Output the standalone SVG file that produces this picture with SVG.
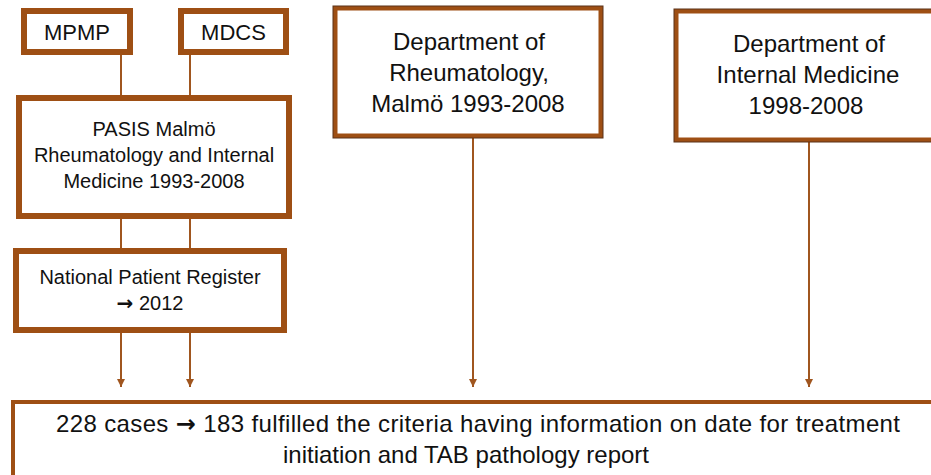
<svg xmlns="http://www.w3.org/2000/svg" width="931" height="475" viewBox="0 0 931 475">
  <defs>
    <style>
      .box { fill: #ffffff; stroke: #9E4F14; stroke-width: 6; }
      .box4 { fill: #ffffff; stroke: #9E4F14; stroke-width: 4; }
      .edge { fill: none; stroke: #5A3218; stroke-width: 6; }
      .inner { fill: #ffffff; stroke: #9E4F14; stroke-width: 4; }
      .t { font-family: "Liberation Sans", Arial, sans-serif; fill: #111111; text-anchor: middle; }
      .ar { font-family: "DejaVu Sans", sans-serif; font-weight: bold; }
      .conn { fill: none; stroke: #A0561F; stroke-width: 2; }
    </style>
    <marker id="arr" viewBox="0 0 10 10" refX="10" refY="5" markerWidth="8" markerHeight="9" markerUnits="userSpaceOnUse" orient="auto">
      <path d="M0,0 L10,5 L0,10 z" fill="#A0561F"/>
    </marker>
  </defs>

  <rect width="931" height="475" fill="#ffffff"/>

  <g id="connectors">
    <line class="conn" x1="121" y1="55" x2="121" y2="95"/>
    <line class="conn" x1="190" y1="55" x2="190" y2="95"/>
    <line class="conn" x1="121" y1="219" x2="121" y2="248"/>
    <line class="conn" x1="190" y1="219" x2="190" y2="248"/>
    <line class="conn" x1="121" y1="333" x2="121" y2="387" marker-end="url(#arr)"/>
    <line class="conn" x1="190" y1="333" x2="190" y2="387" marker-end="url(#arr)"/>
    <line class="conn" x1="473" y1="138" x2="473" y2="387" marker-end="url(#arr)"/>
    <line class="conn" x1="809" y1="142" x2="809" y2="387" marker-end="url(#arr)"/>
  </g>

  <g id="mpmp">
    <rect class="box" x="24" y="11" width="106" height="41"/>
    <text class="t" x="77" y="39.5" font-size="22">MPMP</text>
  </g>

  <g id="mdcs">
    <rect class="box" x="181" y="11" width="105" height="41"/>
    <text class="t" x="233.5" y="39.5" font-size="22">MDCS</text>
  </g>

  <g id="pasis">
    <rect class="box" x="19" y="98" width="270" height="118"/>
    <text class="t" x="154" y="136" font-size="20">PASIS Malmö</text>
    <text class="t" x="154" y="162" font-size="20">Rheumatology and Internal</text>
    <text class="t" x="154" y="188" font-size="20">Medicine 1993-2008</text>
  </g>

  <g id="npr">
    <rect class="box" x="16" y="251" width="268" height="79"/>
    <text class="t" x="150" y="284" font-size="20">National Patient Register</text>
    <text class="t" x="150" y="310" font-size="20"><tspan class="ar">→</tspan> 2012</text>
  </g>

  <g id="rheumatology">
    <rect class="edge" x="335.5" y="8.5" width="265" height="127"/>
    <rect class="inner" x="335.5" y="8.5" width="265" height="127"/>
    <text class="t" x="469" y="50" font-size="24">Department of</text>
    <text class="t" x="469" y="81" font-size="24">Rheumatology,</text>
    <text class="t" x="468" y="112" font-size="24">Malmö 1993-2008</text>
  </g>

  <g id="internal-medicine">
    <rect class="edge" x="676.5" y="11.5" width="300" height="128"/>
    <rect class="inner" x="676.5" y="11.5" width="300" height="128"/>
    <text class="t" x="809" y="52" font-size="24">Department of</text>
    <text class="t" x="808" y="83" font-size="24">Internal Medicine</text>
    <text class="t" x="806" y="114" font-size="24">1998-2008</text>
  </g>

  <g id="result">
    <rect class="box4" x="13" y="402" width="960" height="100"/>
    <text class="t" x="478" y="432" font-size="24" textLength="844" lengthAdjust="spacing">228 cases <tspan class="ar">→</tspan> 183 fulfilled the criteria having information on date for treatment</text>
    <text class="t" x="466" y="463" font-size="24">initiation and TAB pathology report</text>
  </g>
</svg>
